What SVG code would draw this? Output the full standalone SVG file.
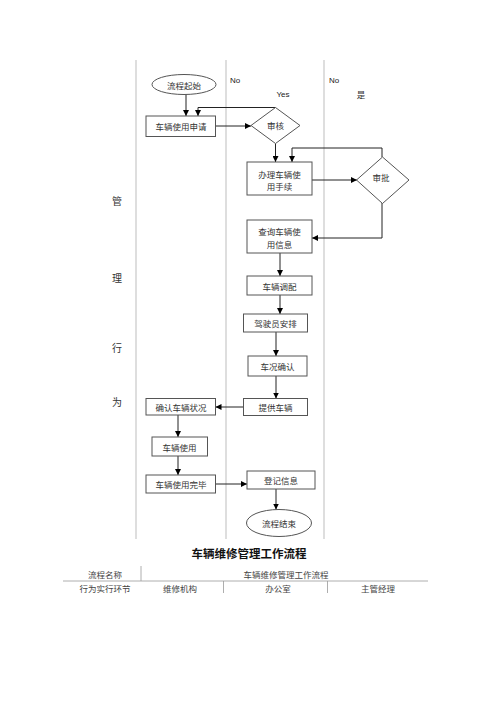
<svg xmlns="http://www.w3.org/2000/svg" width="500" height="707" viewBox="0 0 500 707">
<defs>
<marker id="ah" viewBox="0 0 10 10" refX="10" refY="5" markerWidth="6" markerHeight="6" markerUnits="userSpaceOnUse" orient="auto">
<path d="M0,0 L10,5 L0,10 z" fill="#000"/>
</marker>
</defs>
<style>
.lane{stroke:#c8c8c8;stroke-width:1.2;fill:none}
.box{fill:#fff;stroke:#555;stroke-width:1}
.con{fill:none;stroke:#222;stroke-width:1;marker-end:url(#ah)}
.con2{fill:none;stroke:#222;stroke-width:1}
.t{font-family:"Noto Sans CJK SC","Liberation Sans",sans-serif;font-size:8.5px;fill:#333;text-anchor:middle;dominant-baseline:central}
.lbl{font-family:"Liberation Sans","Noto Sans CJK SC",sans-serif;font-size:8px;fill:#222;text-anchor:middle;dominant-baseline:central}
.side{font-family:"Noto Sans CJK SC",sans-serif;font-size:10px;fill:#333;text-anchor:middle;dominant-baseline:central}
.title{font-family:"Noto Sans CJK SC",sans-serif;font-size:11.5px;font-weight:bold;fill:#111;text-anchor:middle;dominant-baseline:central}
.tbl{font-family:"Noto Sans CJK SC",sans-serif;font-size:8.5px;fill:#444;text-anchor:middle;dominant-baseline:central}
.tl{stroke:#999;stroke-width:0.8;fill:none}
</style>
<rect width="500" height="707" fill="#fff"/>
<g id="lanes">
<line class="lane" x1="136" y1="60" x2="136" y2="539"/>
<line class="lane" x1="226" y1="60" x2="226" y2="539"/>
<line class="lane" x1="324" y1="60" x2="324" y2="539"/>
</g>
<g id="side-labels">
<text class="side" x="117" y="200">管</text>
<text class="side" x="117" y="277">理</text>
<text class="side" x="117" y="347">行</text>
<text class="side" x="117" y="401">为</text>
</g>
<g id="lane-labels">
<text class="lbl" x="235" y="80.5">No</text>
<text class="lbl" x="283" y="94">Yes</text>
<text class="lbl" x="334" y="80.5">No</text>
<text class="t" x="361" y="94">是</text>
</g>
<g id="connectors">
<line class="con" x1="186" y1="94" x2="186" y2="116"/>
<polyline class="con" points="275.5,107.5 198,107.5 198,116"/>
<line class="con" x1="216" y1="126" x2="251" y2="126"/>
<line class="con" x1="275.5" y1="143.5" x2="275.5" y2="162"/>
<polyline class="con" points="382,157 382,148 292,148 292,162"/>
<line class="con" x1="312" y1="180" x2="357" y2="180"/>
<polyline class="con" points="382,203 382,238 312,238"/>
<line class="con" x1="280" y1="253" x2="280" y2="276"/>
<line class="con" x1="280" y1="295" x2="280" y2="314"/>
<line class="con" x1="276" y1="332" x2="276" y2="356"/>
<line class="con" x1="276" y1="376" x2="276" y2="398.5"/>
<line class="con" x1="243.5" y1="407" x2="215.5" y2="407"/>
<line class="con" x1="178" y1="415" x2="178" y2="437"/>
<line class="con" x1="178" y1="456" x2="178" y2="475"/>
<line class="con" x1="215.5" y1="484" x2="247" y2="484"/>
<line class="con" x1="276" y1="489" x2="276" y2="509.5"/>
</g>
<g id="start">
<ellipse class="box" cx="184" cy="84.5" rx="32" ry="10"/>
<text class="t" x="184" y="84.5">流程起始</text>
</g>
<g id="apply">
<rect class="box" x="146" y="116" width="69.5" height="20.5"/>
<text class="t" x="181" y="126">车辆使用申请</text>
</g>
<g id="review">
<polygon class="box" points="275.5,107.5 300,125.5 275.5,143.5 251,125.5"/>
<text class="t" x="275.5" y="125">审核</text>
</g>
<g id="handle">
<rect class="box" x="247" y="162" width="65" height="33"/>
<text class="t" x="279.5" y="173.5">办理车辆使</text>
<text class="t" x="279.5" y="186">用手续</text>
</g>
<g id="approve">
<polygon class="box" points="382.5,157 409,180 382.5,203.5 356.5,180"/>
<text class="t" x="381" y="177">审批</text>
</g>
<g id="query">
<rect class="box" x="247" y="220" width="65" height="33"/>
<text class="t" x="279.5" y="230.5">查询车辆使</text>
<text class="t" x="279.5" y="243.5">用信息</text>
</g>
<g id="dispatch">
<rect class="box" x="247" y="276" width="65" height="19"/>
<text class="t" x="279.5" y="285.5">车辆调配</text>
</g>
<g id="driver">
<rect class="box" x="243.5" y="314" width="64" height="18"/>
<text class="t" x="275.5" y="323">驾驶员安排</text>
</g>
<g id="condition">
<rect class="box" x="248" y="356" width="59" height="20"/>
<text class="t" x="277.5" y="366">车况确认</text>
</g>
<g id="provide">
<rect class="box" x="243.5" y="398.5" width="64" height="17"/>
<text class="t" x="275.5" y="407">提供车辆</text>
</g>
<g id="confirm">
<rect class="box" x="146" y="398.5" width="69.5" height="16.5"/>
<text class="t" x="181" y="407">确认车辆状况</text>
</g>
<g id="use">
<rect class="box" x="152" y="437" width="55.5" height="19"/>
<text class="t" x="179.5" y="446.5">车辆使用</text>
</g>
<g id="finish">
<rect class="box" x="146" y="475" width="69.5" height="18"/>
<text class="t" x="181" y="484">车辆使用完毕</text>
</g>
<g id="register">
<rect class="box" x="247" y="471" width="68" height="18"/>
<text class="t" x="281" y="480">登记信息</text>
</g>
<g id="end">
<ellipse class="box" cx="279" cy="523" rx="32.5" ry="13.5"/>
<text class="t" x="279" y="523">流程结束</text>
</g>
<g id="table">
<text class="title" x="249" y="553">车辆维修管理工作流程</text>
<line class="tl" x1="63" y1="581" x2="428" y2="581"/>
<line class="tl" x1="141" y1="566" x2="141" y2="581"/>
<line class="tl" x1="223.5" y1="581" x2="223.5" y2="593"/>
<line class="tl" x1="327.5" y1="581" x2="327.5" y2="593"/>
<text class="tbl" x="105" y="574">流程名称</text>
<text class="tbl" x="286" y="574">车辆维修管理工作流程</text>
<text class="tbl" x="105" y="587.5">行为实行环节</text>
<text class="tbl" x="180" y="587.5">维修机构</text>
<text class="tbl" x="278" y="587.5">办公室</text>
<text class="tbl" x="378" y="587.5">主管经理</text>
</g>
</svg>
